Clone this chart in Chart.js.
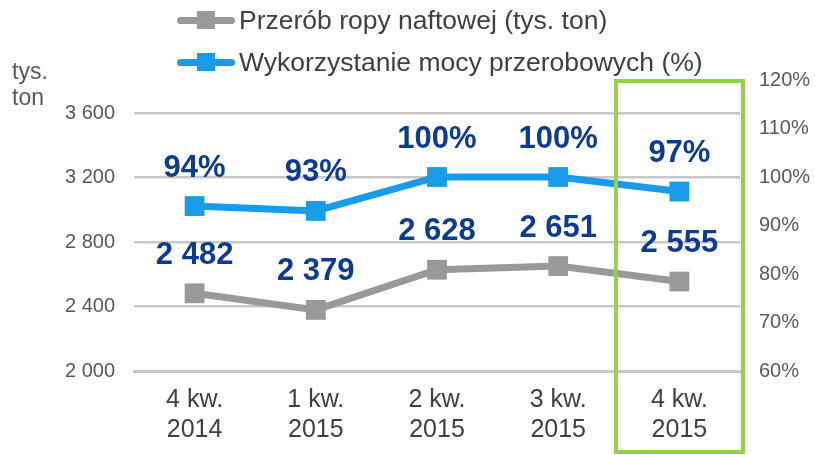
<!DOCTYPE html>
<html>
<head>
<meta charset="utf-8">
<script src="https://cdn.jsdelivr.net/npm/chart.js@4/dist/chart.umd.min.js"></script>
<style>
  html, body { margin: 0; padding: 0; background: #fff; }
  #wrap { position: relative; width: 815px; height: 455px; overflow: hidden; font-family: "Liberation Sans", Arial, sans-serif; }
  canvas { position: absolute; left: 0; top: 0; }
  .leg { position: absolute; left: 177px; height: 30px; display: flex; align-items: center; }
  .leg .sym { position: relative; width: 58px; height: 30px; }
  .leg .ln { position: absolute; left: 0; top: 12px; width: 58px; height: 7px; border-radius: 4px; }
  .leg .mk { position: absolute; left: 20px; top: 6px; width: 18px; height: 18px; }
  .leg .tx { margin-left: 4px; font-size: 26.5px; color: #404040; line-height: 30px; white-space: nowrap; }
  .unit { position: absolute; left: 12px; font-size: 23px; color: #595959; line-height: 26px; }
</style>
</head>
<body>
<div id="wrap">
  <canvas id="c" width="815" height="455"></canvas>
  <div class="leg" style="top:5px"><div class="sym"><div class="ln" style="background:#999999"></div><div class="mk" style="background:#999999"></div></div><div class="tx">Przerób ropy naftowej (tys. ton)</div></div>
  <div class="leg" style="top:47px"><div class="sym"><div class="ln" style="background:#189BE8"></div><div class="mk" style="background:#189BE8"></div></div><div class="tx">Wykorzystanie mocy przerobowych (%)</div></div>
  <div class="unit" style="top:58px">tys.</div>
  <div class="unit" style="top:84px">ton</div>
</div>
<script>
const categories = [["4 kw.", "2014"], ["1 kw.", "2015"], ["2 kw.", "2015"], ["3 kw.", "2015"], ["4 kw.", "2015"]];
const throughput = [2482, 2379, 2628, 2651, 2555];
const utilization = [94, 93, 100, 100, 97];
const leftTicks = [2000, 2400, 2800, 3200, 3600];
const rightTicks = [60, 70, 80, 90, 100, 110, 120];
const highlightIndex = 4;

const fmtThousands = v => String(v).replace(/\B(?=(\d{3})+(?!\d))/g, " ");

const labelPlugin = {
  id: 'valueLabels',
  afterDatasetsDraw(chart) {
    const ctx = chart.ctx;
    ctx.save();
    ctx.font = 'bold 31px "Liberation Sans", Arial, sans-serif';
    ctx.fillStyle = '#0C3B8F';
    ctx.textAlign = 'center';
    ctx.textBaseline = 'middle';
    chart.data.datasets.forEach((ds, di) => {
      const meta = chart.getDatasetMeta(di);
      meta.data.forEach((pt, i) => {
        const v = ds.data[i];
        const txt = di === 0 ? fmtThousands(v) : v + '%';
        ctx.fillText(txt, pt.x, pt.y - 38);
      });
    });
    ctx.restore();
  }
};

const boxPlugin = {
  id: 'highlightBox',
  afterDatasetsDraw(chart) {
    const ctx = chart.ctx;
    const xs = chart.scales.x;
    const cx = xs.getPixelForValue(highlightIndex);
    const half = 63.5;
    ctx.save();
    ctx.strokeStyle = '#92D050';
    ctx.lineWidth = 4;
    ctx.strokeRect(cx - half, chart.chartArea.top + 1, half * 2, 452 - chart.chartArea.top - 1);
    ctx.restore();
  }
};

new Chart(document.getElementById('c'), {
  type: 'line',
  data: {
    labels: categories,
    datasets: [
      {
        label: 'Przerób ropy naftowej (tys. ton)',
        data: throughput,
        yAxisID: 'y',
        borderColor: '#999999',
        backgroundColor: '#999999',
        borderWidth: 7,
        pointStyle: 'rect',
        pointRadius: 14,
        pointBorderWidth: 0,
        pointBackgroundColor: '#999999',
        tension: 0
      },
      {
        label: 'Wykorzystanie mocy przerobowych (%)',
        data: utilization,
        yAxisID: 'y1',
        borderColor: '#189BE8',
        backgroundColor: '#189BE8',
        borderWidth: 7,
        pointStyle: 'rect',
        pointRadius: 14,
        pointBorderWidth: 0,
        pointBackgroundColor: '#189BE8',
        tension: 0
      }
    ]
  },
  options: {
    responsive: false,
    animation: false,
    devicePixelRatio: 1,
    layout: { padding: { top: 80, left: 0, right: 0, bottom: 0 } },
    plugins: { legend: { display: false }, tooltip: { enabled: false } },
    scales: {
      x: {
        offset: true,
        grid: { display: false, drawTicks: false, offset: true },
        border: { display: true, color: '#C8C8C8', width: 3 },
        ticks: { color: '#404040', font: { size: 25, family: '"Liberation Sans", Arial, sans-serif' }, padding: 14, maxRotation: 0 },
        afterFit(s) { s.height = 84; }
      },
      y: {
        position: 'left',
        min: 2000, max: 3805,
        grid: { color: '#C8C8C8', lineWidth: 2.5, drawTicks: false },
        border: { display: false },
        ticks: { color: '#595959', font: { size: 20, family: '"Liberation Sans", Arial, sans-serif' }, padding: 19, callback: v => fmtThousands(v) },
        afterBuildTicks(s) { s.ticks = leftTicks.map(v => ({ value: v })); },
        afterFit(s) { s.width = 134; }
      },
      y1: {
        position: 'right',
        min: 60, max: 120,
        grid: { display: false, drawTicks: false },
        border: { display: false },
        ticks: { color: '#595959', font: { size: 20, family: '"Liberation Sans", Arial, sans-serif' }, padding: 19, callback: v => v + '%' },
        afterBuildTicks(s) { s.ticks = rightTicks.map(v => ({ value: v })); },
        afterFit(s) { s.width = 75; }
      }
    }
  },
  plugins: [labelPlugin, boxPlugin]
});
</script>
</body>
</html>
